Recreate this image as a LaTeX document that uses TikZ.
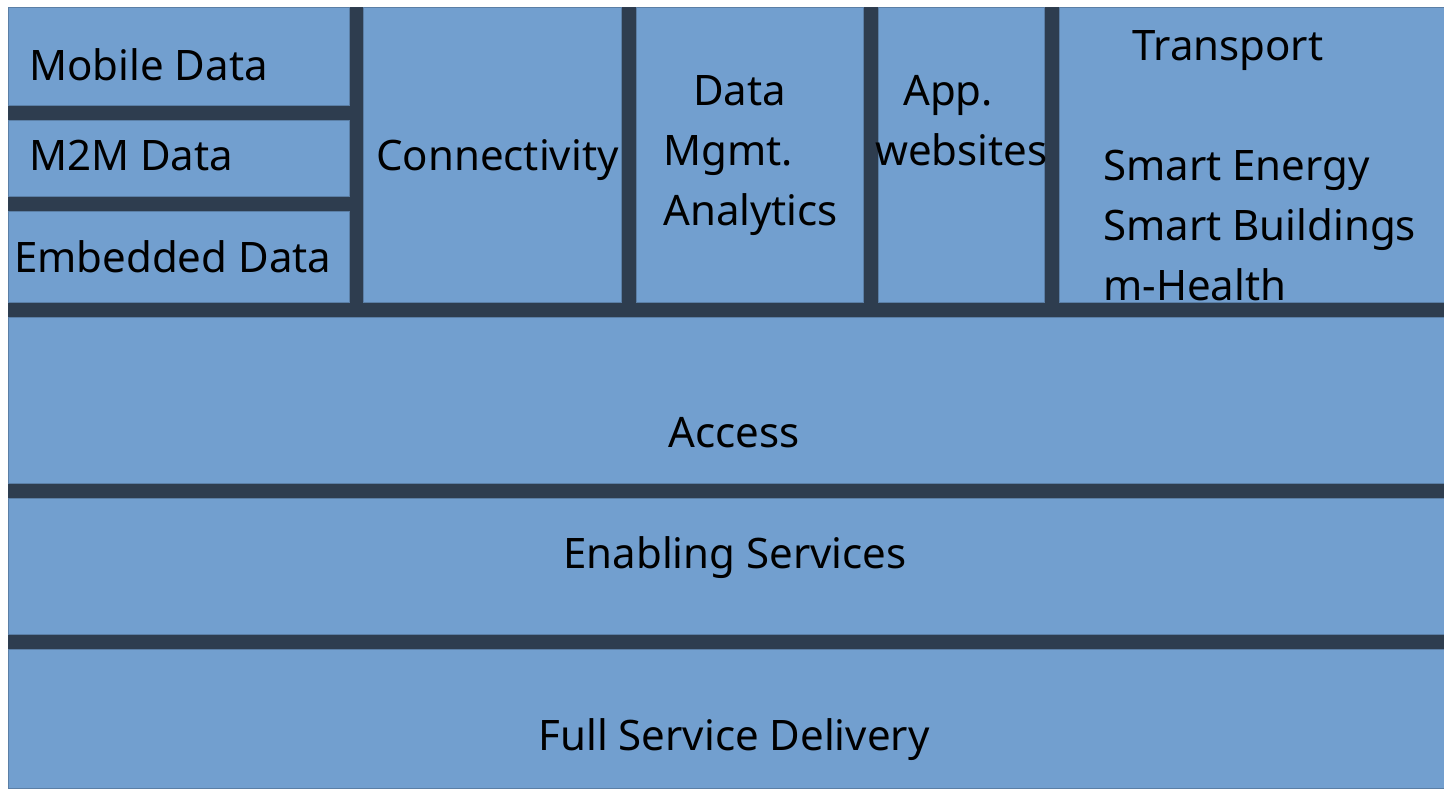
\documentclass[tikz,border=0pt]{standalone}
\usepackage{fontspec}
\setmainfont{Noto Sans}
\definecolor{tileblue}{RGB}{114,159,207}
\definecolor{gapdark}{RGB}{46,61,79}

\begin{document}
\begin{tikzpicture}[
    x=1pt, y=-1pt,
    tile/.style={fill=tileblue, draw=tileblue!80!black, line width=0.5pt},
    lbl/.style={inner sep=0pt, anchor=base west, font=\fontsize{42}{50}\selectfont},
    mid/.style={lbl, anchor=base} % centred labels of the wide layers
]
\useasboundingbox (0,0) rectangle (1444,788);
\fill[white] (0,0) rectangle (1444,788);
\fill[gapdark] (8,7) rectangle (1444,788);

% top row: data kinds and service columns
\path[tile] (8,7) rectangle (349,105);
\path[tile] (8,120) rectangle (349,196);
\path[tile] (8,211) rectangle (349,302);
\path[tile] (363,7) rectangle (621,302);
\path[tile] (636,7) rectangle (863,302);
\path[tile] (878,7) rectangle (1044,302);
\path[tile] (1059,7) rectangle (1444,302);

% wide layers
\path[tile] (8,317) rectangle (1444,483);
\path[tile] (8,498) rectangle (1444,634);
\path[tile] (8,649) rectangle (1444,788);

\node[lbl] (mobile) at (29,80) {Mobile Data};
\node[lbl] (mtwom) at (29,170) {M2M Data};
\node[lbl] (embedded) at (14,272) {Embedded Data};
\node[lbl] (conn) at (376,170) {Connectivity};

\node[lbl] (dmData) at (693,105) {Data};
\node[lbl] (dmMgmt) at (663,165) {Mgmt.};
\node[lbl] (dmAna) at (663,225) {Analytics};

\node[lbl] (appApp) at (903,105) {App.};
\node[lbl] (appWeb) at (875,165) {websites};

\node[lbl] (transport) at (1132,60) {Transport};
\node[lbl] (energy) at (1103,180) {Smart Energy};
\node[lbl] (buildings) at (1103,240) {Smart Buildings};
\node[lbl] (health) at (1103,300) {m-Health};

\node[mid] (access) at (734,447) {Access};
\node[mid] (enabling) at (735,568) {Enabling Services};
\node[mid] (delivery) at (734,750) {Full Service Delivery};
\end{tikzpicture}
\end{document}
